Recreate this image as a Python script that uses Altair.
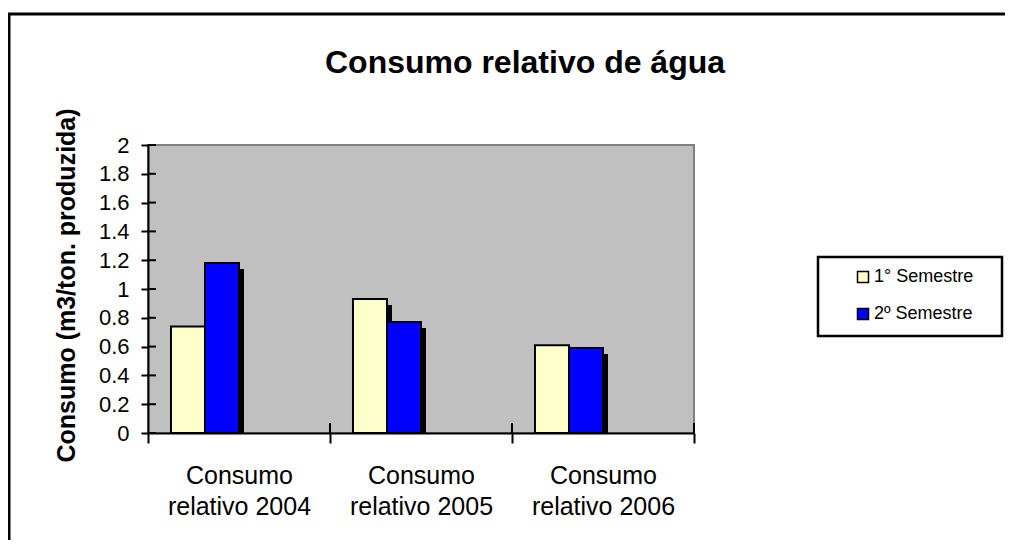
import altair as alt
import pandas as pd

categories = ["Consumo relativo 2004", "Consumo relativo 2005", "Consumo relativo 2006"]
semesters = ["1° Semestre", "2º Semestre"]
sem1 = [0.74, 0.93, 0.61]
sem2 = [1.18, 0.77, 0.59]
y_ticks = [0, 0.2, 0.4, 0.6, 0.8, 1, 1.2, 1.4, 1.6, 1.8, 2]
slots = semesters + ["_3", "_4"]
colors = ["#FFFFCC", "#0000FF"]

rows = []
for i, c in enumerate(categories):
    rows.append({"cat": c, "sem": semesters[0], "val": sem1[i]})
    rows.append({"cat": c, "sem": semesters[1], "val": sem2[i]})
df = pd.DataFrame(rows)

FONT = "Liberation Sans"
W, H = 546, 288
STEP = W / len(categories)
SHADOW = 5

x_axis = alt.Axis(
    title=None, labelAngle=0, labelFontSize=25, labelFont=FONT, labelColor="black",
    labelLineHeight=31, labelPadding=20, labelBaseline="top",
    labelExpr="datum.label ? ['Consumo', replace(datum.label, 'Consumo ', '')] : ''",
    tickBand="extent", tickSize=10, tickWidth=2, tickColor="black",
    domainColor="black", domainWidth=2, zindex=1,
)
x_scale = alt.Scale(domain=categories, paddingInner=0, paddingOuter=0)
x_enc = alt.X("cat:N", sort=categories, scale=x_scale, axis=x_axis)
xo = alt.XOffset("sem:N", scale=alt.Scale(domain=slots, paddingInner=0, paddingOuter=0.676))
xo_shadow = alt.XOffset("sem:N", scale=alt.Scale(domain=slots, paddingInner=0, paddingOuter=0.676,
                                                 range=[SHADOW, STEP + SHADOW]))

y_axis = alt.Axis(
    title="Consumo (m3/ton. produzida)", values=y_ticks, format="~g",
    labelFontSize=22, labelFont=FONT, labelColor="black", labelPadding=12,
    tickSize=7, tickWidth=2, tickColor="black",
    domainColor="black", domainWidth=2, grid=False, zindex=1,
    titleFont=FONT, titleFontSize=25, titleFontWeight="bold", titleColor="black",
    titleX=-82, titleY=140, titleAngle=270, titleAlign="center", titleBaseline="middle",
)
y_enc = alt.Y("val:Q", scale=alt.Scale(domain=[0, 2], nice=False), axis=y_axis)

color_enc = alt.Color(
    "sem:N", scale=alt.Scale(domain=semesters, range=colors),
    legend=alt.Legend(
        title=None, orient="none", legendX=706, legendY=123,
        symbolType="square", symbolSize=121, symbolStrokeColor="black",
        symbolStrokeWidth=1.5, labelFontSize=18, labelFont=FONT, labelColor="black",
        rowPadding=19, labelOffset=2, padding=0,
    ),
)

one = pd.DataFrame({"a": [0]})

border = alt.Chart(one).mark_rect(fill="white", fillOpacity=0, stroke="black", strokeWidth=3).encode(
    x=alt.value(-139), y=alt.value(-131), x2=alt.value(880), y2=alt.value(420)
)
legend_frame = alt.Chart(one).mark_rect(fill="white", stroke="black", strokeWidth=2.5).encode(
    x=alt.value(670), x2=alt.value(854), y=alt.value(112), y2=alt.value(191)
)
shadow = alt.Chart(df).mark_bar(color="black", yOffset=6, clip=True).encode(
    x=x_enc, xOffset=xo_shadow, y=y_enc
)
bars = alt.Chart(df).mark_bar(stroke="black", strokeWidth=2).encode(
    x=x_enc, xOffset=xo, y=y_enc, color=color_enc
)
ytick_df = pd.DataFrame({"val": y_ticks})
ytick_in = alt.Chart(ytick_df).mark_rule(color="black", strokeWidth=2).encode(
    y=y_enc, x=alt.value(0), x2=alt.value(8)
)
xtick_df = pd.DataFrame({"cat": categories})
xtick_in = alt.Chart(xtick_df).mark_rule(color="black", strokeWidth=2).encode(
    x=alt.X("cat:N", sort=categories, bandPosition=1, scale=x_scale, axis=x_axis),
    y=alt.value(H - 10), y2=alt.value(H)
)

chart = alt.layer(border, legend_frame, shadow, bars, ytick_in, xtick_in).resolve_scale(
    xOffset="independent"
).properties(
    width=W, height=H,
    background="white",
    title=alt.TitleParams(
        text="Consumo relativo de água", font=FONT, fontSize=32, fontWeight="bold",
        color="black", anchor="middle", dx=104, dy=92, baseline="alphabetic", offset=0,
    ),
    padding={"left": 140, "top": 137, "right": 311, "bottom": 107},
    autosize=alt.AutoSizeParams(type="none"),
).configure_view(fill="#C0C0C0", stroke="#808080", strokeWidth=2)

chart.save("out.html", embed_options={"renderer": "svg", "actions": False})
